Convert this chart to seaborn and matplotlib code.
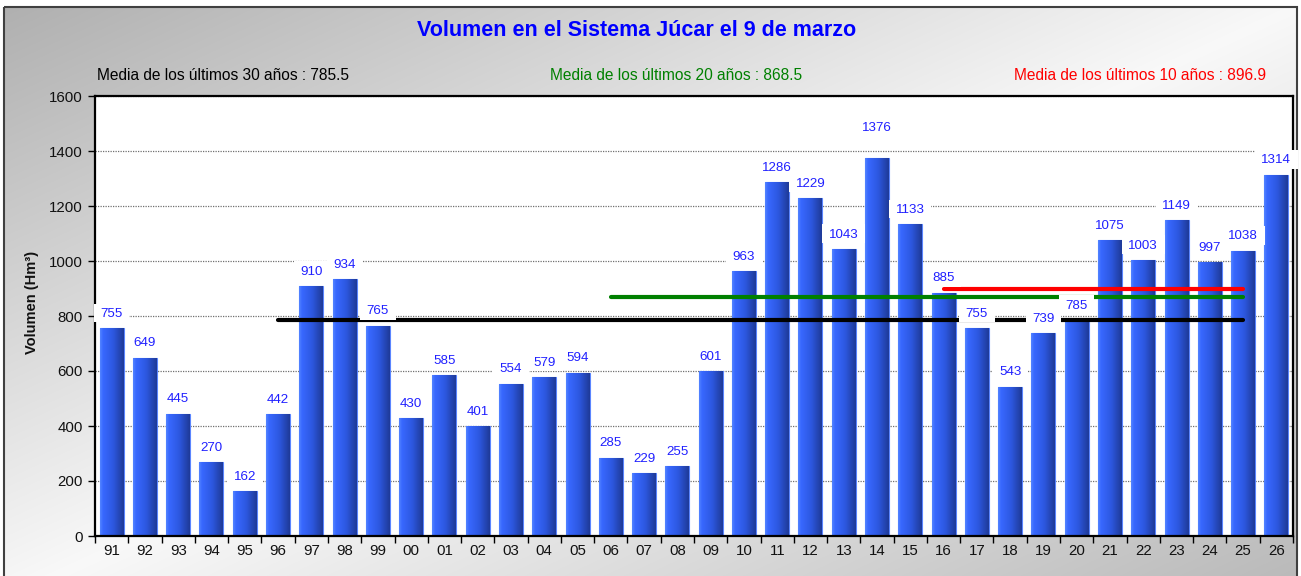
import numpy as np
import matplotlib
matplotlib.use("Agg")
import matplotlib.pyplot as plt
from matplotlib.colors import LinearSegmentedColormap
from matplotlib.patches import Rectangle
from matplotlib.path import Path
import seaborn as sns

years = ['91', '92', '93', '94', '95', '96', '97', '98', '99', '00', '01', '02',
         '03', '04', '05', '06', '07', '08', '09', '10', '11', '12', '13', '14',
         '15', '16', '17', '18', '19', '20', '21', '22', '23', '24', '25', '26']
values = [755, 649, 445, 270, 162, 442, 910, 934, 765, 430, 585, 401,
          554, 579, 594, 285, 229, 255, 601, 963, 1286, 1229, 1043, 1376,
          1133, 885, 755, 543, 739, 785, 1075, 1003, 1149, 997, 1038, 1314]

mean_values = [785.5, 868.5, 896.9]
mean_start = ['96', '06', '16']
mean_end = '25'
mean_labels = ['Media de los últimos 30 años : 785.5',
               'Media de los últimos 20 años : 868.5',
               'Media de los últimos 10 años : 896.9']
mean_colors = ['#000000', '#008000', '#ff0000']

title = 'Volumen en el Sistema Júcar el 9 de marzo'
ylabel = 'Volumen (Hm³)'

# style: extra lift (points) for labels that were moved in the original
label_lift = {'14': 11}


def label_box(x0, y0, width, height, mutation_size):
    px = 0.49 * mutation_size
    pb = 0.16 * mutation_size
    pt = 0.35 * mutation_size
    verts = [(x0 - px, y0 - pb), (x0 + width + px, y0 - pb),
             (x0 + width + px, y0 + height + pt), (x0 - px, y0 + height + pt),
             (x0 - px, y0 - pb)]
    return Path(verts, closed=True)


sns.set_theme(style='white')
plt.rcParams['font.family'] = ['Liberation Sans', 'DejaVu Sans']

W, H = 1301, 576
fig = plt.figure(figsize=(W / 100, H / 100), dpi=100)
fig.patch.set_facecolor('white')

# background gradient
bg = fig.add_axes([0, 0, 1, 1], zorder=-10)
bg.set_xlim(0, W)
bg.set_ylim(H, 0)
bg.axis('off')
u = np.linspace(0, 1, 500)
v = np.linspace(0, 1, 250)
s = u[None, :] + v[:, None]
inten = np.interp(s, [0, 1.0, 2], [0.69, 0.975, 0.72])
img = np.dstack([inten, inten, inten])
bg.imshow(img, extent=(4, 1297, 600, 7), origin='upper', aspect='auto',
          interpolation='bilinear')
bg.add_patch(Rectangle((4, 7), 1293, 620, fill=False, edgecolor='#404040', lw=1.5))

ax = fig.add_axes([95 / W, 40 / H, (1293 - 95) / W, (536 - 96) / H])
ax.set_facecolor('white')
sns.barplot(x=years, y=values, order=years, color='#3366ff', width=0.72,
            saturation=1, edgecolor='#5a85ff', linewidth=0.8, ax=ax, zorder=2)

cmap = LinearSegmentedColormap.from_list(
    'bar', [(0, '#5384ff'), (0.12, '#3868ff'), (0.55, '#2d58e0'), (1, '#1f3a98')])
grad = np.linspace(0, 1, 64)[None, :]
for p in list(ax.patches):
    x0, y0, w, h = p.get_x(), p.get_y(), p.get_width(), p.get_height()
    im = ax.imshow(grad, extent=[x0, x0 + w, y0, y0 + h], aspect='auto',
                   cmap=cmap, zorder=2.1, interpolation='bilinear')
    im.set_clip_path(p)

ax.set_xlim(-0.5, len(years) - 0.5)
ax.set_ylim(0, 1600)

# grid
ax.set_axisbelow(True)
ax.yaxis.grid(True, linestyle=(0, (1, 1)), color='#707070', lw=0.9)
ax.xaxis.grid(False)

# mean lines
for m, st, c in zip(mean_values, mean_start, mean_colors):
    i0 = years.index(st)
    i1 = years.index(mean_end)
    ax.plot([i0, i1], [m, m], color=c, lw=3.0, solid_capstyle='round', zorder=4)

# value labels
for i, (yr, val) in enumerate(zip(years, values)):
    ax.annotate(str(val), (i, val),
                xytext=(0, 8.05 + label_lift.get(yr, 0)), textcoords='offset points',
                ha='center', va='baseline', fontsize=9.6, color='#2020ff',
                bbox=dict(boxstyle=label_box, fc='white', ec='none'),
                zorder=6, annotation_clip=False)

# ticks
ax.set_yticks(range(0, 1601, 200))
ax.tick_params(axis='y', left=True, length=5, width=1, color='black',
               labelsize=10.8, labelcolor='#111111', direction='out', pad=4)
ax.set_xticks(range(len(years)))
ax.set_xticklabels(years)
ax.set_xticks(np.arange(-0.5, len(years), 1), minor=True)
ax.tick_params(axis='x', which='major', bottom=False, length=0,
               labelsize=10.8, labelcolor='#111111', pad=6)
ax.tick_params(axis='x', which='minor', bottom=True, length=5, width=1,
               color='black', direction='out')
ax.set_xlabel('')

for sp in ax.spines.values():
    sp.set_visible(True)
    sp.set_color('black')
    sp.set_linewidth(1.6)

ax.set_ylabel(ylabel, fontsize=10.5, fontweight='bold', color='#111111')
ax.yaxis.set_label_coords(-0.047, 0.53)

fig.text(637 / W, 1 - 30 / H, title, ha='center', va='center', fontsize=15.5,
         fontweight='bold', color='#0000ff')
fig.text(97 / W, 1 - 76 / H, mean_labels[0], ha='left', va='center',
         fontsize=11.2, color=mean_colors[0])
fig.text(676 / W, 1 - 76 / H, mean_labels[1], ha='center', va='center',
         fontsize=11.2, color=mean_colors[1])
fig.text(1014 / W, 1 - 76 / H, mean_labels[2], ha='left', va='center',
         fontsize=11.2, color=mean_colors[2])

fig.savefig('out.png', dpi=100)
